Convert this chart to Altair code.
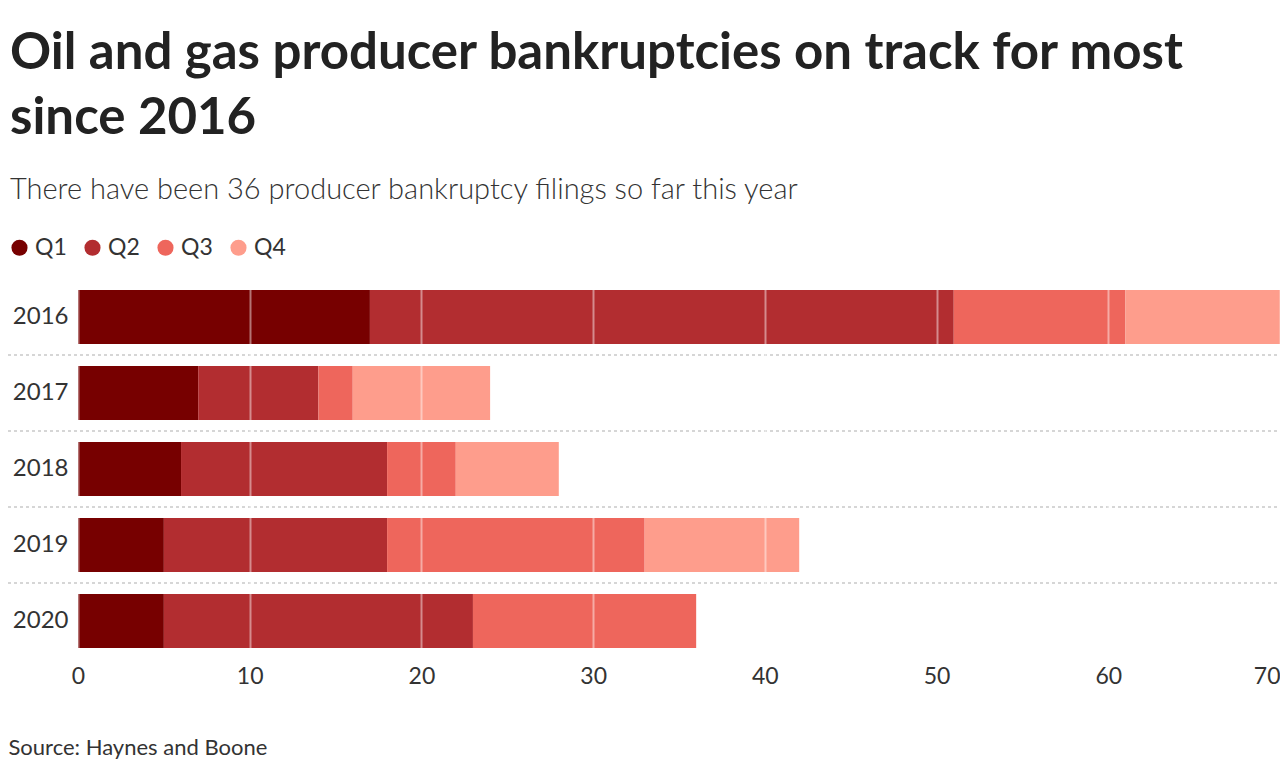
import altair as alt
import pandas as pd

years = ["2016", "2017", "2018", "2019", "2020"]
quarters = ["Q1", "Q2", "Q3", "Q4"]
q1 = [17, 7, 6, 5, 5]
q2 = [34, 7, 12, 13, 18]
q3 = [10, 2, 4, 15, 13]
q4 = [9, 8, 6, 9, 0]
colors = ["#770000", "#b22d30", "#ee665c", "#fe9d8c"]
x_ticks = [0, 10, 20, 30, 40, 50, 60, 70]
separator_years = ["2017", "2018", "2019", "2020"]

rows = []
for i, y in enumerate(years):
    for qi, (q, vals) in enumerate(zip(quarters, [q1, q2, q3, q4])):
        if vals[i] > 0:
            rows.append({"year": y, "quarter": q, "order": qi, "count": vals[i]})
df = pd.DataFrame(rows)
sep_df = pd.DataFrame({"year": separator_years})

FONT = "Lato"
W, H = 1202, 380

yscale = alt.Scale(domain=years, paddingInner=0.29, paddingOuter=0.145)

bars = alt.Chart(df).mark_bar().encode(
    x=alt.X("sum(count):Q",
            scale=alt.Scale(domain=[0, 70], nice=False),
            axis=alt.Axis(values=x_ticks, title="Source: Haynes and Boone",
                          titleX=-70, titleY=95, titleAlign="left", titleAnchor="start",
                          titleBaseline="alphabetic",
                          titleFontSize=22, titleFontWeight="normal", titleColor="#333",
                          titleFont=FONT,
                          domain=False, ticks=False, labelFontSize=23, labelFont=FONT,
                          labelColor="#333", labelPadding=6,
                          labelAlign={"condition": {"test": "datum.value === 70", "value": "right"}, "value": "center"},
                          grid=True, gridColor="#ffffff", gridOpacity=0.45, gridWidth=2,
                          zindex=1)),
    y=alt.Y("year:N", scale=yscale,
            axis=alt.Axis(title=None, domain=False, ticks=False, labelFontSize=24,
                          labelFont=FONT, labelColor="#333", labelPadding=10)),
    color=alt.Color("quarter:N",
                    scale=alt.Scale(domain=quarters, range=colors),
                    legend=alt.Legend(title=None, orient="none", legendX=-70, legendY=-43,
                                      direction="horizontal", symbolType="circle",
                                      symbolSize=260, symbolStrokeWidth=0,
                                      labelFontSize=23, labelFont=FONT, labelColor="#333",
                                      columnPadding=14, labelOffset=4)),
    order=alt.Order("order:Q"),
)

seps = alt.Chart(sep_df).mark_rule(color="#d6d6d6", strokeDash=[3, 3], strokeWidth=2,
                                    yOffset=-38).encode(
    y=alt.Y("year:N", scale=yscale),
    x=alt.value(-70),
    x2=alt.value(W),
)

chart = alt.layer(seps, bars).properties(
    width=W, height=H,
    autosize=alt.AutoSizeParams(type="none"),
    padding={"left": 70, "top": 271, "right": 0, "bottom": 100},
    title=alt.TitleParams(
        text=["Oil and gas producer bankruptcies on track for most", "since 2016"],
        subtitle="There have been 36 producer bankruptcy filings so far this year",
        anchor="start", dx=3, offset=30, font=FONT, fontSize=51, fontWeight="bold",
        color="#222", lineHeight=65, subtitleFont=FONT, subtitleFontSize=29,
        subtitleFontWeight=300, subtitleColor="#333", subtitlePadding=31,
    ),
).configure_view(stroke=None)

chart.save("out.html", embed_options={"renderer": "svg", "actions": False})
